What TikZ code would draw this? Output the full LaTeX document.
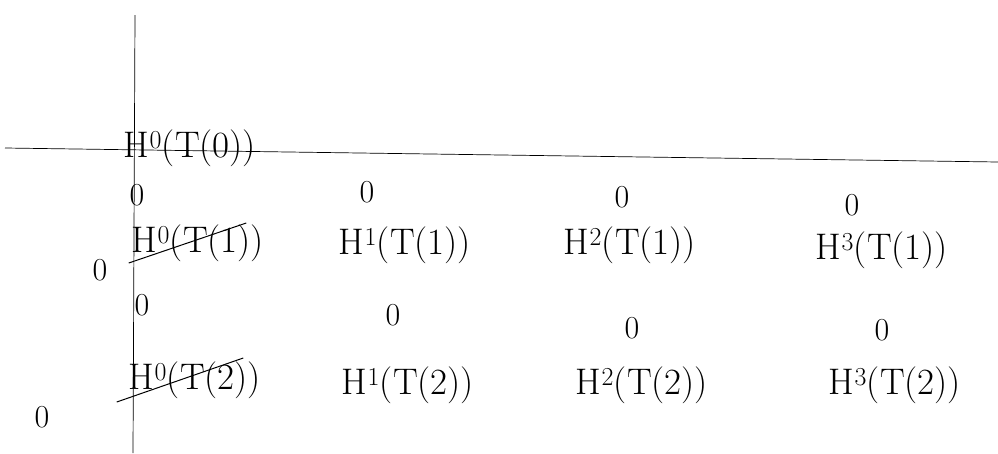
\documentclass[tikz,border=0pt]{standalone}
\usepackage{fontspec}
\usetikzlibrary{calc}
\newcommand{\hterm}[2]{H\textsuperscript{#1}(T(#2))}
\begin{document}
\begin{tikzpicture}[x=1pt,y=-1pt,
  term/.style={inner sep=0pt,font=\fontsize{37}{39}\selectfont},
  zero/.style={inner sep=0pt,font=\fontsize{32}{34}\selectfont},
  axis/.style={line width=0.7pt,black},
  strike/.style={line width=1pt,black}]
\useasboundingbox (0,0) rectangle (998,453);
% axes
\coordinate (xl) at (5,148);
\coordinate (xr) at (998,162);
\coordinate (yt) at (135,15);
\coordinate (yb) at (133,453);
\draw[axis] (xl) -- (xr);
\draw[axis] (yt) -- (yb);
% row 0
\node[term] (h00) at (190,148) {\hterm{0}{0}};
% column 0
\node[zero] (z01) at (137,195) {0};
\node[term] (h01) at (198,243) {\hterm{0}{1}};
\node[zero] (z0a) at (100,270) {0};
\node[zero] (z02) at (142,305) {0};
\node[term] (h02) at (195,380) {\hterm{0}{2}};
\node[zero] (z0b) at (42,417) {0};
\draw[strike] ($(h01.west)+(-3,20)$) -- ($(h01.east)+(-18,-20)$);
\draw[strike] ($(h02.west)+(-12,22)$) -- ($(h02.east)+(-18,-22)$);
% column 1
\node[zero] (z11) at (367,192) {0};
\node[term] (h11) at (405,245) {\hterm{1}{1}};
\node[zero] (z12) at (393,315) {0};
\node[term] (h12) at (408,385) {\hterm{1}{2}};
% column 2
\node[zero] (z21) at (622,197) {0};
\node[term] (h21) at (630,245) {\hterm{2}{1}};
\node[zero] (z22) at (632,328) {0};
\node[term] (h22) at (642,385) {\hterm{2}{2}};
% column 3
\node[zero] (z31) at (852,205) {0};
\node[term] (h31) at (882,250) {\hterm{3}{1}};
\node[zero] (z32) at (882,330) {0};
\node[term] (h32) at (895,385) {\hterm{3}{2}};
\end{tikzpicture}
\end{document}
